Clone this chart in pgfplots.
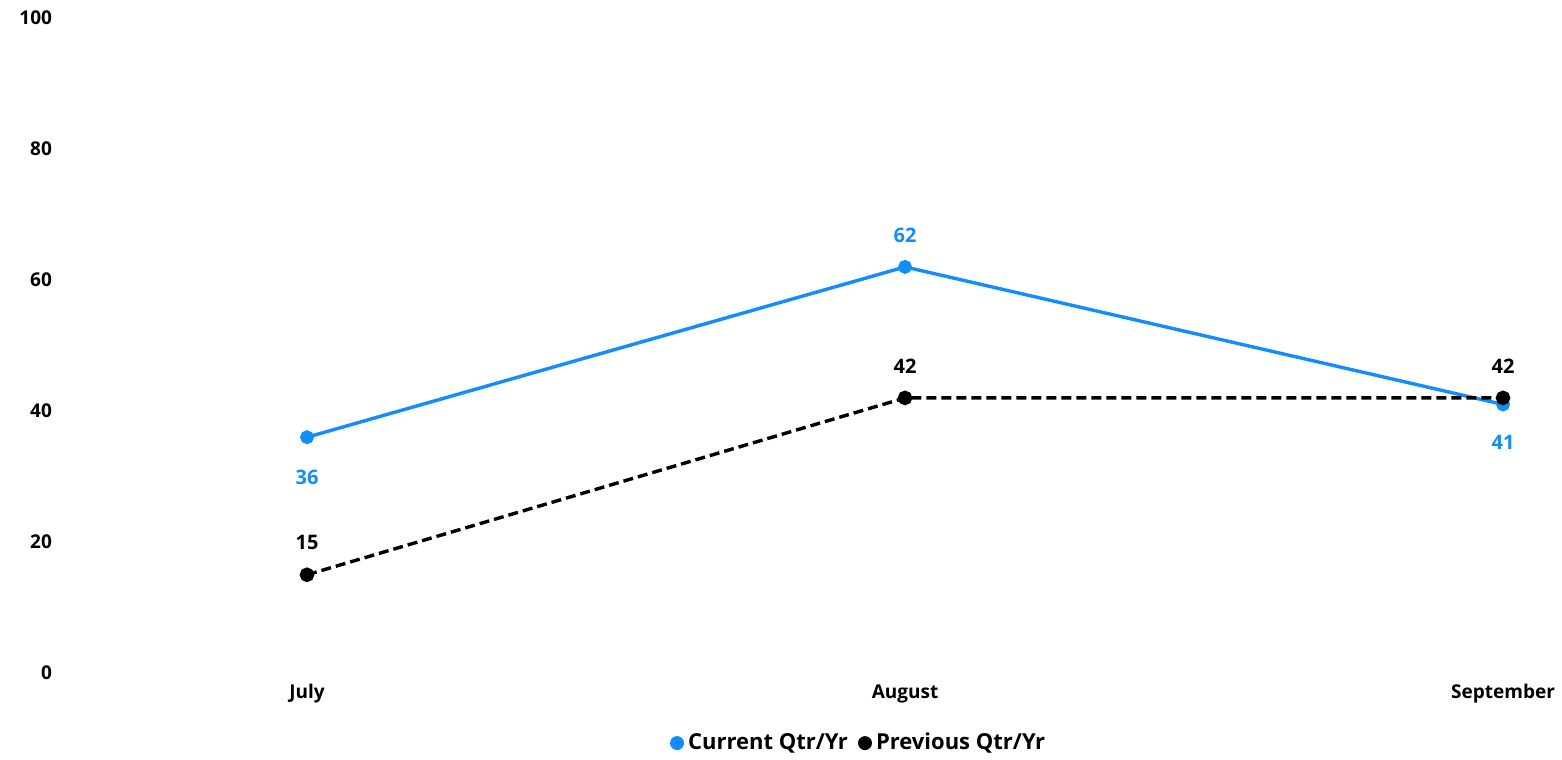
\documentclass[border=0pt]{standalone}
\usepackage{pgfplots}
\pgfplotsset{compat=1.18}
\usepackage{fontspec}
\setmainfont{Open Sans}
\definecolor{pbblue}{HTML}{118DFF}
\begin{document}
\begin{tikzpicture}
\begin{axis}[
  scale only axis, width=598pt, height=327.5pt,
  xmin=0, xmax=2, ymin=0, ymax=100,
  clip=false,
  axis line style={draw=none},
  major tick length=0pt,
  xtick={0,1,2}, xticklabels={July,August,September},
  ytick={0,20,40,60,80,100},
  /pgf/number format/assume math mode=true,
  ticklabel style={font=\fontsize{9.5}{11}\selectfont\bfseries, text=black},
  yticklabel style={anchor=east, xshift=-124pt},
  xticklabel style={anchor=center, yshift=-10.5pt},
  legend style={draw=none, at={(rel axis cs:0.462,-0.107)}, anchor=center,
    legend columns=2, font=\fontsize{11}{13}\selectfont\bfseries,
    /tikz/every even column/.append style={column sep=3pt},
    inner sep=0pt},
  visualization depends on={\thisrow{dy} \as \dy},
  nodes near coords,
  every node near coord/.append style={anchor=center, yshift=\dy pt, font=\fontsize{10}{12}\selectfont\bfseries},
]
\addplot[pbblue, line width=1.7pt, mark=*, mark size=2.6pt, mark options={solid},
  every node near coord/.append style={text=pbblue},
  legend image code/.code={\path[fill=pbblue, draw=none] (0.12cm,0cm) circle (3.5pt);}]
  table {
x y dy
0 36 -20
1 62 16
2 41 -19
};
\addlegendentry{Current Qtr/Yr}
\addplot[black, line width=1.7pt, dash pattern=on 5pt off 2.5pt, mark=*, mark size=2.8pt, mark options={solid},
  every node near coord/.append style={text=black},
  legend image code/.code={\path[fill=black, draw=none] (0.12cm,0cm) circle (3.5pt);}]
  table {
x y dy
0 15 16
1 42 16
2 42 16
};
\addlegendentry{Previous Qtr/Yr}
\path (rel axis cs:-0.2567,-0.1313) rectangle (rel axis cs:1.0493,1.0275);
\end{axis}
\end{tikzpicture}
\end{document}
